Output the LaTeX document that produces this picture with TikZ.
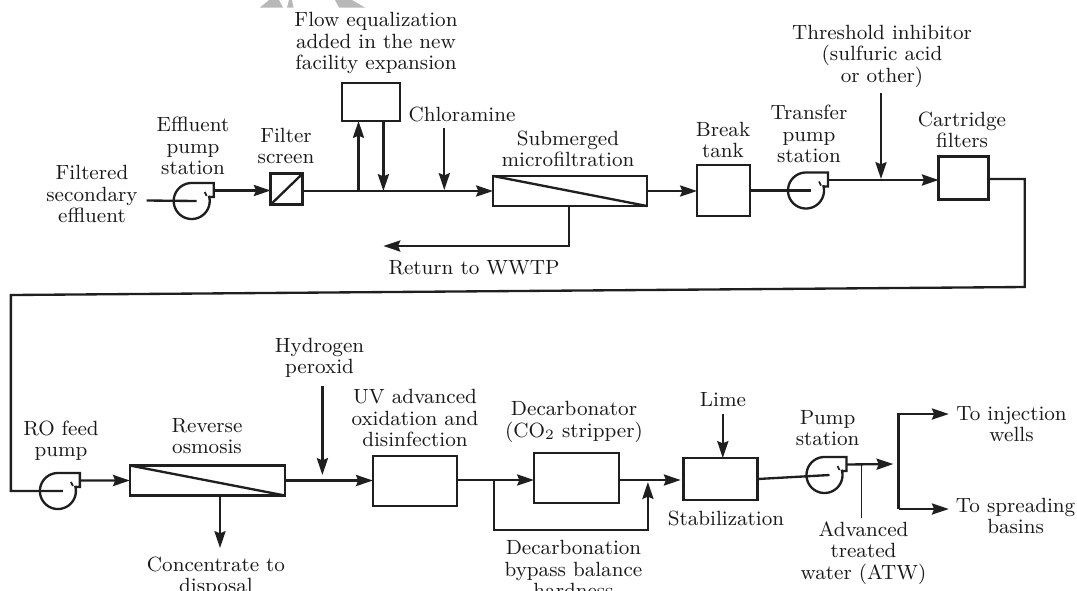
\documentclass[tikz,border=0pt]{standalone}
\usetikzlibrary{arrows.meta,calc}
\newcommand{\px}{0.45}
\tikzset{
  x=0.45pt,y=-0.45pt,
  pipe/.style={line width=1.05pt,draw=black!88,line join=miter},
  flow/.style={pipe,-{Stealth[length=7.6pt,width=5pt,inset=1pt]}},
  box/.style={draw=black!88,line width=1.1pt,inner sep=0pt,outer sep=0pt,rectangle},
  lbl/.style={scale=1.07,inner sep=0pt,outer sep=0pt,align=center,text=black!90,font=\fontsize{8.65}{9.02}\selectfont},
  pics/pumpicon/.style={code={
    \draw[pipe] plot[smooth,samples=60,domain=-17:270] ({18*cos(\x)},{18*sin(\x)}) -- (22,-18) -- (22,-4) -- (17.5,-4);
    \draw[pipe,line width=0.8pt] (15,-5) -- (13,-9);
    \coordinate (-in) at (5,0);
    \coordinate (-out) at (22,-10.5);
  }}
}
\begin{document}
\begin{tikzpicture}
\useasboundingbox (0,0) rectangle (1077,590);
% watermark fragment
\fill[black!28] (260,7.5) -- (269,0) -- (279,0) -- (283,7.5) -- cycle;
\fill[black!28] (287,7.5) -- (289,0) -- (292,0) -- (293.5,7.5) -- cycle;
\fill[black!28] (339,7.5) -- (335,0) -- (352,0) -- (365,7.5) -- cycle;

% boxes
\node[box,minimum width={32*\px pt},minimum height={31*\px pt}] (filter) at (286.7,189) {};
\node[box,minimum width={58*\px pt},minimum height={38*\px pt}] (eq) at (371,102) {};
\node[box,minimum width={154*\px pt},minimum height={30*\px pt}] (mf) at (570,191) {};
\node[box,minimum width={53*\px pt},minimum height={51*\px pt}] (tank) at (723.5,190.5) {};
\node[box,minimum width={50*\px pt},minimum height={43*\px pt}] (cart) at (963.7,178) {};
\node[box,minimum width={155*\px pt},minimum height={30*\px pt}] (ro) at (207.4,480.5) {};
\node[box,minimum width={84*\px pt},minimum height={50*\px pt}] (uv) at (414.9,481) {};
\node[box,minimum width={85*\px pt},minimum height={50*\px pt}] (dec) at (576.5,478) {};
\node[box,minimum width={74*\px pt},minimum height={42*\px pt}] (stab) at (720.7,479) {};

% membrane diagonals
\draw[pipe] (filter.south west) -- (filter.north east);
\draw[pipe] (mf.north west) -- (mf.south east);
\draw[pipe] (ro.north west) -- (ro.south east);

% pumps
\pic (p1) at (191.7,201) {pumpicon};
\pic (p2) at (806,190.5) {pumpicon};
\pic (p3) at (57.9,491) {pumpicon};
\pic (p4) at (824.5,475) {pumpicon};

% labels
\node[lbl] (tFlow) at (376,43) {Flow equalization\\added in the new\\facility expansion};
\node[lbl] (tChlor) at (462,114) {Chloramine};
\node[lbl] (tEff) at (193,146) {Effluent\\pump\\station};
\node[lbl] (tScreen) at (286,146) {Filter\\screen};
\node[lbl] (tSec) at (92,194) {Filtered\\secondary\\effluent};
\node[lbl] (tSub) at (568,149) {Submerged\\microfiltration};
\node[lbl] (tRet) at (474,268) {Return to WWTP};
\node[lbl] (tBreak) at (723,140) {Break\\tank};
\node[lbl] (tTrans) at (809,134) {Transfer\\pump\\station};
\node[lbl] (tThr) at (882,56) {Threshold inhibitor\\(sulfuric acid\\or other)};
\node[lbl] (tCart) at (962,130) {Cartridge\\filters};
\node[lbl] (tROf) at (61,441) {RO feed\\pump};
\node[lbl] (tRev) at (207,436) {Reverse\\osmosis};
\node[lbl] (tH) at (319.5,358) {Hydrogen\\peroxid};
\node[lbl] (tUV) at (415,418) {UV advanced\\oxidation and\\disinfection};
\node[lbl] (tDec) at (574,422) {Decarbonator\\(CO$_2$ stripper)};
\node[lbl] (tConc) at (216,577) {Concentrate to\\disposal};
\node[lbl] (tByp) at (573.5,569) {Decarbonation\\bypass balance\\hardness};
\node[lbl] (tLime) at (723,400) {Lime};
\node[lbl] (tPump) at (827.6,428) {Pump\\station};
\node[lbl] (tStab) at (726,518) {Stabilization};
\node[lbl] (tATW) at (863.5,553) {Advanced\\treated\\water (ATW)};
\node[lbl] (tInj) at (1011.5,424) {To injection\\wells};
\node[lbl] (tSpr) at (1015.6,516) {To spreading\\basins};

% free ends and junctions
\coordinate (sIn) at (146.7,200.5);
\coordinate (jUp) at (358.5,191);
\coordinate (jDown) at (383.4,191);
\coordinate (chlorTop) at (444.3,128);
\coordinate (chlorTip) at (444.3,190);
\coordinate (retR) at (569,246);
\coordinate (retL) at (383.4,246);
\coordinate (thrTop) at (881,93);
\coordinate (thrTip) at (881,179);
\coordinate (c1) at (1024.8,179);
\coordinate (c2) at (1024.8,287);
\coordinate (c3) at (10.9,295);
\coordinate (c4) at (10.9,491);
\coordinate (hTop) at (322.4,386);
\coordinate (hTip) at (322.4,475);
\coordinate (concB) at (220,548);
\coordinate (jByp) at (494,480);
\coordinate (b1) at (494,530);
\coordinate (b2) at (647.9,530);
\coordinate (b3) at (647.9,482);
\coordinate (limeTop) at (722.8,414);
\coordinate (atwB) at (861.5,518);
\coordinate (outEnd) at (893.4,464);
\coordinate (brT) at (898.5,414);
\coordinate (brB) at (898.5,509);
\coordinate (injTip) at (948.8,414);
\coordinate (sprTip) at (948.8,509);
\coordinate (decOut) at (680.7,480);

% connectors: top line
\draw[pipe] (sIn) -- (p1-in);
\draw[flow] (p1-out) -- (filter.west |- p1-out);
\draw[flow] (filter.east |- mf.west) -- (mf.west);
\draw[flow] (jUp) -- (jUp |- eq.south);
\draw[flow] (jDown |- eq.south) -- (jDown);
\draw[flow] (chlorTop) -- (chlorTip);
\draw[flow] (mf.east) -- (tank.west |- mf.east);
\draw[flow] (retR |- mf.south) -- (retR) -- (retL);
\draw[pipe] (tank.east) -- (p2-in);
\draw[flow] (p2-out) -- (cart.west |- p2-out);
\draw[flow] (thrTop) -- (thrTip);
% long return
\draw[pipe] (cart.east |- c1) -- (c1) -- (c2) -- (c3) -- (c4) -- (p3-in);
% bottom line
\draw[flow] (p3-out) -- (ro.west);
\draw[flow] (ro.east) -- (uv.west |- ro.east);
\draw[flow] (hTop) -- (hTip);
\draw[flow] (concB |- ro.south) -- (concB);
\draw[flow] (uv.east |- jByp) -- (dec.west |- jByp);
\draw[flow] (jByp) -- (b1) -- (b2) -- (b3);
\draw[flow] (dec.east |- decOut) -- (decOut);
\draw[flow] (limeTop) -- (limeTop |- stab.north);
\draw[pipe] (stab.east) -- (p4-in);
\draw[flow] (p4-out) -- (outEnd);
\draw[pipe,line width=0.5pt] (atwB |- outEnd) -- (atwB);
\draw[flow] (brB) -- (brT) -- (injTip);
\draw[flow] (brB) -- (sprTip);
\end{tikzpicture}
\end{document}
